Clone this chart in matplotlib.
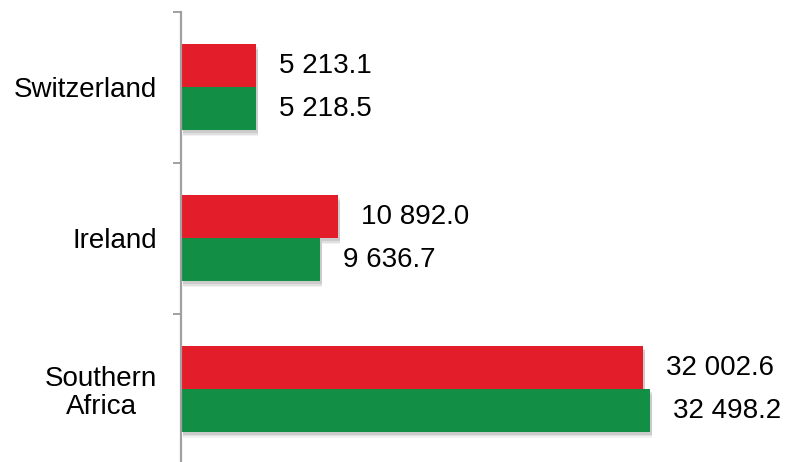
import numpy as np
import matplotlib.pyplot as plt
import matplotlib.patheffects as pe

plt.rcParams['font.family'] = ['Liberation Sans', 'DejaVu Sans']

# values per region
regions = ['Switzerland', 'Ireland', 'Southern\nAfrica']
red_vals = [5213.1, 10892.0, 32002.6]
green_vals = [5218.5, 9636.7, 32498.2]

red = '#E31E2A'
green = '#138F45'

fig = plt.figure(figsize=(7.86, 4.62), dpi=100)
ax = fig.add_axes([0.2303, -0.006, 0.7697, 0.980])

y = np.arange(len(regions))
h = 0.285

# soft drop shadow made of a few offset layers
shadow = [pe.SimplePatchShadow(offset=(1.5, -dy), shadow_rgbFace='k', alpha=a)
          for dy, a in [(4, 0.05), (3, 0.07), (2, 0.09)]] + [pe.Normal()]

b1 = ax.barh(y - h / 2, red_vals, height=h, color=red, edgecolor='none')
b2 = ax.barh(y + h / 2, green_vals, height=h, color=green, edgecolor='none')
for b in list(b1) + list(b2):
    b.set_path_effects(shadow)

def fmt(v):
    return f'{v:,.1f}'.replace(',', ' ')

for bars, vals in [(b1, red_vals), (b2, green_vals)]:
    for bar, v in zip(bars, vals):
        ax.annotate(fmt(v), (v, bar.get_y() + bar.get_height() / 2),
                    xytext=(16.5, 0), textcoords='offset points',
                    va='center', ha='left', fontsize=20)

ax.set_xlim(0, 41930)
ax.set_ylim(2.5, -0.5)

# boundary ticks on the axis, labels centred between them
ax.set_yticks(np.arange(-0.5, len(regions)), labels=[])
ax.set_yticks(y, labels=regions, minor=True)
ax.tick_params(axis='y', which='major', length=6, width=1.4, color='#A0A0A0')
ax.tick_params(axis='y', which='minor', length=0, pad=17, labelsize=20)
for lab in ax.get_yticklabels(minor=True):
    lab.set_multialignment('center')
    lab.set_linespacing(1.1)
ax.set_xticks([])

for s in ['top', 'right', 'bottom']:
    ax.spines[s].set_visible(False)
ax.spines['left'].set_color('#A0A0A0')
ax.spines['left'].set_linewidth(1.6)

fig.savefig('out.png', dpi=100)
